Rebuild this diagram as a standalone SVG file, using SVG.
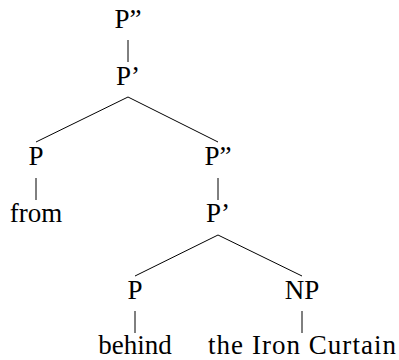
<svg xmlns="http://www.w3.org/2000/svg" width="399" height="360" viewBox="0 0 399 360">
<style>
text { font-family: "Liberation Serif", "Times New Roman", serif; font-size: 27px; fill: #000; text-anchor: middle; }
line { stroke: #000; stroke-width: 1; }
</style>
<rect width="399" height="360" fill="#fff"/>
<g id="connectors">
<line x1="128" y1="40" x2="128" y2="62"/>
<line x1="128" y1="97" x2="36" y2="142"/>
<line x1="128" y1="97" x2="218" y2="142"/>
<line x1="36" y1="178" x2="36" y2="200"/>
<line x1="218" y1="178" x2="218" y2="200"/>
<line x1="218" y1="235" x2="135" y2="276"/>
<line x1="218" y1="235" x2="302" y2="276"/>
<line x1="135" y1="311" x2="135" y2="333"/>
<line x1="302" y1="311" x2="302" y2="333"/>
</g>
<g id="n1"><text x="128" y="28">P”</text></g>
<g id="n2"><text x="128" y="85">P’</text></g>
<g id="n3"><text x="36" y="165">P</text></g>
<g id="n4"><text x="36" y="222">from</text></g>
<g id="n5"><text x="218" y="165">P”</text></g>
<g id="n6"><text x="218" y="222">P’</text></g>
<g id="n7"><text x="135" y="299">P</text></g>
<g id="n8"><text x="135" y="354">behind</text></g>
<g id="n9"><text x="302" y="299">NP</text></g>
<g id="n10"><text x="302" y="354" textLength="188" lengthAdjust="spacing">the Iron Curtain</text></g>
</svg>
